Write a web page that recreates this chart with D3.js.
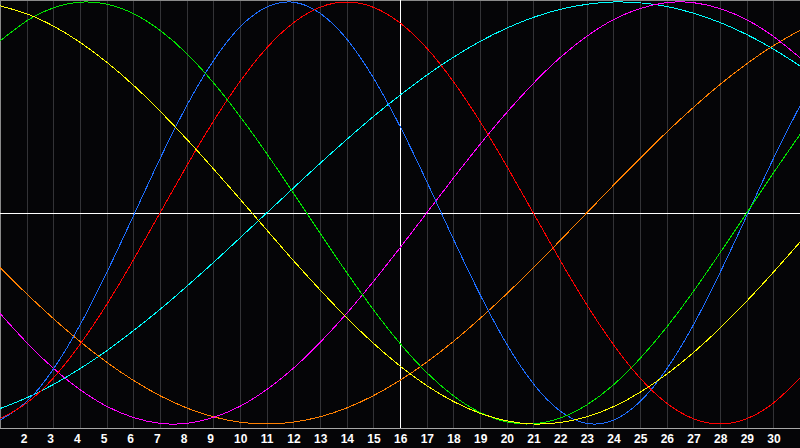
<!DOCTYPE html>
<html>
<head>
<meta charset="utf-8">
<script src="https://cdn.jsdelivr.net/npm/d3@7"></script>
<style>
  html, body { margin: 0; padding: 0; background: #050507; }
  svg { display: block; }
</style>
</head>
<body>
<div class="visualization"></div>
<script>
// days of the month shown on the chart (x = 1 is the left edge, 31 the right edge)
var days = [1, 2, 3, 4, 5, 6, 7, 8, 9, 10, 11, 12, 13, 14, 15, 16,
            17, 18, 19, 20, 21, 22, 23, 24, 25, 26, 27, 28, 29, 30, 31];
var tickDays = [2, 3, 4, 5, 6, 7, 8, 9, 10, 11, 12, 13, 14, 15, 16,
                17, 18, 19, 20, 21, 22, 23, 24, 25, 26, 27, 28, 29, 30];
var today = 16;

// cycle values in percent, one per day
var physical     = [-98.2, -89.4, -74.0, -53.1, -28.3, -1.4, 25.7, 50.8, 72.1, 88.2, 97.6, 99.9, 94.7, 82.5, 64.1, 41.1,
                    15.0, -12.3, -38.6, -62.1, -80.9, -93.8, -99.7, -98.2, -89.4, -74.0, -53.1, -28.3, -1.4, 25.7, 50.8];
var emotional    = [-97.5, -90.1, -78.2, -62.3, -43.4, -22.3, 0, 22.3, 43.4, 62.3, 78.2, 90.1, 97.5, 100, 97.5, 90.1,
                    78.2, 62.3, 43.4, 22.3, 0, -22.3, -43.4, -62.3, -78.2, -90.1, -97.5, -100, -97.5, -90.1, -78.2];
var intellectual = [81.5, 91.0, 97.2, 99.9, 99.0, 94.5, 86.6, 75.6, 61.8, 45.8, 28.2, 9.5, -9.5, -28.2, -45.8, -61.8,
                    -75.6, -86.6, -94.5, -99.0, -99.9, -97.2, -91.0, -81.5, -69.0, -54.1, -37.2, -18.9, 0, 18.9, 37.2];
var intuitive    = [-47.6, -61.4, -73.6, -83.7, -91.6, -96.9, -99.7, -99.7, -96.9, -91.6, -83.7, -73.6, -61.4, -47.6, -32.5, -16.5,
                    0, 16.5, 32.5, 47.6, 61.4, 73.6, 83.7, 91.6, 96.9, 99.7, 99.7, 96.9, 91.6, 83.7, 73.6];
var aesthetic    = [98.2, 94.4, 88.6, 80.9, 71.5, 60.6, 48.3, 35.0, 21.0, 6.6, -8.0, -22.5, -36.4, -49.6, -61.7, -72.5,
                    -81.8, -89.3, -94.9, -98.5, -100, -99.3, -96.6, -91.8, -85.0, -76.4, -66.2, -54.6, -41.8, -28.1, -13.8];
var awareness    = [-25.9, -38.3, -50.0, -60.9, -70.7, -79.3, -86.6, -92.4, -96.6, -99.1, -100, -99.1, -96.6, -92.4, -86.6, -79.3,
                    -70.7, -60.9, -50.0, -38.3, -25.9, -13.1, 0, 13.1, 25.9, 38.3, 50.0, 60.9, 70.7, 79.3, 86.6];
var spiritual    = [-92.7, -87.6, -81.3, -73.8, -65.3, -55.8, -45.7, -34.8, -23.5, -11.8, 0, 11.8, 23.5, 34.8, 45.7, 55.8,
                    65.3, 73.8, 81.3, 87.6, 92.7, 96.5, 98.9, 100, 99.6, 97.9, 94.7, 90.3, 84.6, 77.7, 69.7];

var seriesNames  = ['spiritual', 'awareness', 'intuitive', 'physical', 'emotional', 'intellectual', 'aesthetic'];
var seriesValues = [spiritual, awareness, intuitive, physical, emotional, intellectual, aesthetic];
var seriesColors = ['#00ffff', '#ff8000', '#ff00ff', '#1e6eff', '#ff0000', '#00e600', '#ffff00'];

var width = 800, height = 448, plotBottom = 428;

var svg = d3.select('.visualization').append('svg')
    .attr('width', width)
    .attr('height', height);

svg.append('rect')
    .attr('width', width).attr('height', height)
    .attr('fill', '#050507');

var x = d3.scaleLinear().domain([1, 31]).range([0, width]);
var y = d3.scaleLinear().domain([-100, 100]).range([424, 2]);

// day grid
svg.append('g')
    .selectAll('line')
    .data(tickDays.filter(d => d !== today))
    .enter().append('line')
    .attr('x1', d => Math.round(x(d)) + 0.5)
    .attr('x2', d => Math.round(x(d)) + 0.5)
    .attr('y1', 0)
    .attr('y2', plotBottom)
    .style('stroke', '#333336')
    .style('stroke-width', 1)
    .style('shape-rendering', 'crispEdges');

// frame
svg.append('path')
    .attr('d', `M0.5,${plotBottom}V0.5H${width}`)
    .style('fill', 'none')
    .style('stroke', '#8a8a8a')
    .style('shape-rendering', 'crispEdges');
svg.append('line')
    .attr('x1', 0).attr('x2', width)
    .attr('y1', plotBottom + 0.5).attr('y2', plotBottom + 0.5)
    .style('stroke', '#a8a8a8')
    .style('shape-rendering', 'crispEdges');

// today marker and zero line
svg.append('line')
    .attr('x1', Math.round(x(today)) + 0.5).attr('x2', Math.round(x(today)) + 0.5)
    .attr('y1', 0).attr('y2', plotBottom)
    .style('stroke', '#ffffff')
    .style('shape-rendering', 'crispEdges');
svg.append('line')
    .attr('x1', 0).attr('x2', width)
    .attr('y1', Math.round(y(0)) + 0.5).attr('y2', Math.round(y(0)) + 0.5)
    .style('stroke', '#ffffff')
    .style('shape-rendering', 'crispEdges');

// cycles
var line = d3.line()
    .x((v, i) => x(days[i]))
    .y(v => y(v))
    .curve(d3.curveNatural);

svg.append('g')
    .selectAll('path')
    .data(seriesValues)
    .enter().append('path')
    .attr('class', (d, i) => 'cycle ' + seriesNames[i])
    .attr('d', d => line(d))
    .style('fill', 'none')
    .style('stroke', (d, i) => seriesColors[i])
    .style('stroke-width', 1)
    .style('shape-rendering', 'crispEdges');

// day labels
svg.append('g')
    .selectAll('text')
    .data(tickDays)
    .enter().append('text')
    .text(d => d)
    .attr('x', d => x(d) - 6)
    .attr('y', 443)
    .style('fill', '#ffffff')
    .style('font-family', '"Liberation Sans", Arial, sans-serif')
    .style('font-weight', 'bold')
    .style('font-size', '12px');
</script>
</body>
</html>
